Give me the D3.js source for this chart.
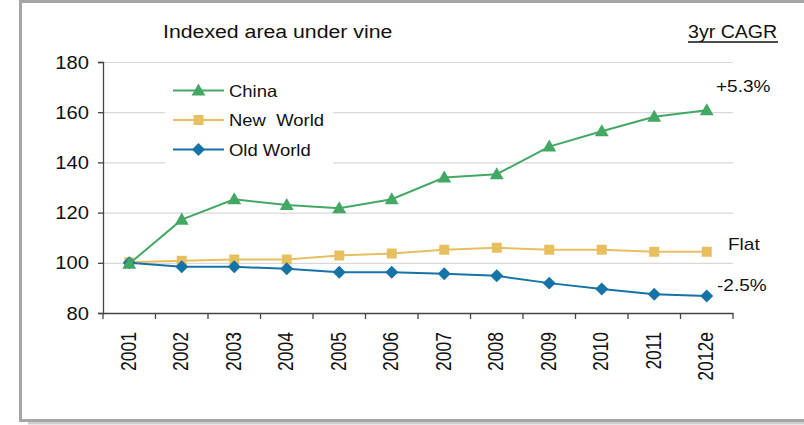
<!DOCTYPE html>
<html>
<head>
<meta charset="utf-8">
<script src="https://cdn.jsdelivr.net/npm/d3@7/dist/d3.min.js"></script>
<style>
  html, body { margin: 0; padding: 0; background: #ffffff; }
  svg { display: block; font-family: "Liberation Sans", Arial, sans-serif; }
</style>
</head>
<body>
<svg id="chart" width="804" height="425"></svg>
<script>
// ---- data ----
const years = ["2001","2002","2003","2004","2005","2006","2007","2008","2009","2010","2011","2012e"];
const china    = [99.6, 117.2, 125.3, 123.0, 121.7, 125.3, 134.0, 135.3, 146.3, 152.4, 158.2, 160.8];
const newWorld = [100.2, 100.8, 101.3, 101.3, 102.9, 103.7, 105.2, 106.0, 105.2, 105.2, 104.4, 104.4];
const oldWorld = [100.0, 98.4, 98.4, 97.6, 96.2, 96.2, 95.6, 94.8, 91.9, 89.6, 87.5, 86.8];
const yTicks = [80, 100, 120, 140, 160, 180];
const seriesNames = ["China", "New\u00a0\u00a0World", "Old World"];
const cagrLabels = ["+5.3%", "Flat", "-2.5%"];
const titleText = "Indexed area under vine";
const cagrTitle = "3yr CAGR";

(function () {
const colors = ["#44a865", "#e8bf5f", "#1673a6"];
const shapes = [d3.symbolTriangle, d3.symbolSquare, d3.symbolSquare];
const symSizes = [84, 100, 84];
const symRot = [0, 0, 45];
const symDy = [1, 0, 0];
const allSeries = [china, newWorld, oldWorld];

const svg = d3.select("#chart");
const SX = 1.12; // horizontal text stretch

// frame
svg.append("rect").attr("x", 28).attr("y", 422).attr("width", 800).attr("height", 2.5).attr("fill", "#cfcfcf");
svg.append("rect").attr("x", 20.5).attr("y", 1.5).attr("width", 800).attr("height", 419)
  .attr("fill", "#fff").attr("stroke", "#a6a6a6").attr("stroke-width", 3);

const pL = 103, pR = 733, pT = 62, pB = 313;
const x = d3.scaleBand().domain(years).range([pL, pR]).padding(0);
const y = d3.scaleLinear().domain([80, 180]).range([pB, pT]);

function stext(g, tx, ty, str, size, anchor) {
  return g.append("text")
    .attr("transform", `translate(${tx},${ty}) scale(${SX},1)`)
    .attr("text-anchor", anchor || "start")
    .attr("font-size", size)
    .attr("fill", "#111")
    .text(str);
}

// gridlines
svg.append("g").selectAll("line").data(yTicks.filter(d => d > 80)).join("line")
  .attr("x1", pL).attr("x2", pR)
  .attr("y1", d => y(d) + 0.5).attr("y2", d => y(d) + 0.5)
  .attr("stroke", "#d9d9d9").attr("stroke-width", 1.2);

// y axis
const yAxis = svg.append("g").attr("transform", `translate(${pL},0)`)
  .call(d3.axisLeft(y).tickValues(yTicks).tickSize(5).tickPadding(0).tickFormat(""));
yAxis.select(".domain").attr("stroke", "#444").attr("stroke-width", 1.3);
yAxis.selectAll(".tick line").attr("stroke", "#444").attr("stroke-width", 1.3);
yTicks.forEach(t => {
  stext(svg, 89, y(t) + 6.5, String(t), 18, "end");
});

// x axis
const xAxis = svg.append("g").attr("transform", `translate(0,${pB})`)
  .call(d3.axisBottom(x).tickValues([]).tickSizeOuter(0));
xAxis.select(".domain").attr("stroke", "#444").attr("stroke-width", 1.3);
const edges = years.map(d => x(d)).concat([pR]);
xAxis.selectAll("line.edge").data(edges).join("line").attr("class", "edge")
  .attr("x1", d => d).attr("x2", d => d).attr("y1", 0).attr("y2", 6)
  .attr("stroke", "#444").attr("stroke-width", 1.3);
years.forEach(yr => {
  const cx = x(yr) + x.bandwidth() / 2;
  svg.append("text")
    .attr("transform", `translate(${cx + 6.5},332) scale(1.25,1) rotate(-90)`)
    .attr("text-anchor", "end")
    .attr("font-size", 17.5)
    .attr("fill", "#111")
    .text(yr);
});

// legend box (white, hides gridlines)
svg.append("rect").attr("x", 165).attr("y", 70).attr("width", 168).attr("height", 98).attr("fill", "#fff");

// lines and markers
const line = d3.line().x((d, i) => x(years[i]) + x.bandwidth() / 2).y(d => y(d));
[1, 2, 0].forEach(si => {
  const data = allSeries[si];
  svg.append("path").datum(data).attr("d", line)
    .attr("fill", "none").attr("stroke", colors[si]).attr("stroke-width", 2);
  svg.append("g").selectAll("path").data(data).join("path")
    .attr("d", d3.symbol().type(shapes[si]).size(symSizes[si]))
    .attr("transform", (d, i) => `translate(${x(years[i]) + x.bandwidth() / 2},${y(d) + symDy[si]}) rotate(${symRot[si]})`)
    .attr("fill", colors[si]);
});

// legend
const legY = [90.5, 120, 149.5];
seriesNames.forEach((name, i) => {
  svg.append("line").attr("x1", 173).attr("x2", 224).attr("y1", legY[i]).attr("y2", legY[i])
    .attr("stroke", colors[i]).attr("stroke-width", 2);
  svg.append("path").attr("d", d3.symbol().type(shapes[i]).size(symSizes[i])())
    .attr("transform", `translate(198.5,${legY[i] + symDy[i]}) rotate(${symRot[i]})`).attr("fill", colors[i]);
  stext(svg, 229, legY[i] + 6, name, 16.5, "start");
});

// title
stext(svg, 163, 38, titleText, 19, "start");
stext(svg, 688, 38, cagrTitle, 17.5, "start");
svg.append("line").attr("x1", 688).attr("x2", 778).attr("y1", 42).attr("y2", 42)
  .attr("stroke", "#111").attr("stroke-width", 1.3);

// CAGR labels
const labY = [92, 250, 291];
const labX = [716, 728, 717];
cagrLabels.forEach((t, i) => stext(svg, labX[i], labY[i], t, 17, "start"));
})();
</script>
</body>
</html>
